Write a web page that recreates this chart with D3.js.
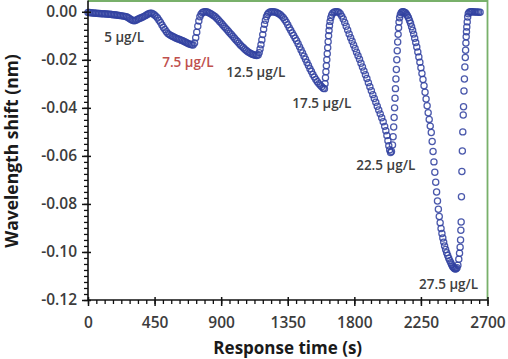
<!DOCTYPE html>
<html><head><meta charset="utf-8">
<script src="https://cdn.jsdelivr.net/npm/d3@7"></script>
<style>body{margin:0;background:#fff}svg{display:block}</style>
</head><body><svg id="c" width="508" height="359"></svg>
<script>
// ---- data (time in s, wavelength shift in nm) ----
const seg5 = [[0,-0.0003],[10,-0.0003],[20,-0.0004],[30,-0.0005],[40,-0.0005],[50,-0.0006],[60,-0.0006],[70,-0.0007],[80,-0.0007],[90,-0.0008],[100,-0.0008],[110,-0.0008],[120,-0.0009],[130,-0.0009],[140,-0.0010],[150,-0.0010],[160,-0.0011],[170,-0.0012],[180,-0.0012],[190,-0.0013],[200,-0.0014],[210,-0.0015],[220,-0.0016],[230,-0.0017],[240,-0.0018],[250,-0.0019],[260,-0.0021],[270,-0.0024],[280,-0.0028],[290,-0.0032],[300,-0.0035],[310,-0.0037],[320,-0.0036],[330,-0.0033],[340,-0.0030],[350,-0.0027],[360,-0.0025],[370,-0.0022],[380,-0.0019],[390,-0.0015],[400,-0.0011],[410,-0.0008],[420,-0.0006]];
const seg7_5 = [[430,-0.0006],[440,-0.0009],[450,-0.0013],[460,-0.0019],[470,-0.0026],[480,-0.0035],[490,-0.0044],[500,-0.0055],[510,-0.0065],[520,-0.0074],[530,-0.0083],[540,-0.0090],[550,-0.0095],[560,-0.0099],[570,-0.0102],[580,-0.0105],[590,-0.0108],[600,-0.0111],[610,-0.0113],[620,-0.0115],[630,-0.0118],[640,-0.0121],[650,-0.0124],[660,-0.0127],[670,-0.0130],[680,-0.0133],[690,-0.0135],[700,-0.0137],[710,-0.0138],[720,-0.0130],[728,-0.0108],[735,-0.0085],[742,-0.0060],[749,-0.0038],[756,-0.0021],[764,-0.0010],[772,-0.0004],[780,-0.0001],[790,0.0000],[800,0.0000],[810,-0.0002],[820,-0.0005]];
const seg12_5 = [[830,-0.0008],[840,-0.0012],[850,-0.0016],[860,-0.0021],[870,-0.0027],[880,-0.0033],[890,-0.0040],[900,-0.0047],[910,-0.0054],[920,-0.0061],[930,-0.0068],[940,-0.0075],[950,-0.0082],[960,-0.0089],[970,-0.0096],[980,-0.0103],[990,-0.0110],[1000,-0.0117],[1010,-0.0124],[1020,-0.0131],[1030,-0.0138],[1040,-0.0144],[1050,-0.0150],[1060,-0.0156],[1070,-0.0161],[1080,-0.0166],[1090,-0.0170],[1100,-0.0174],[1110,-0.0177],[1120,-0.0179],[1130,-0.0181],[1140,-0.0182],[1150,-0.0180],[1157,-0.0170],[1163,-0.0155],[1169,-0.0137],[1175,-0.0117],[1181,-0.0095],[1187,-0.0073],[1193,-0.0052],[1199,-0.0035],[1206,-0.0021],[1213,-0.0011],[1220,-0.0005],[1230,-0.0001],[1240,0.0000],[1250,0.0000],[1260,-0.0001],[1270,-0.0002]];
const seg17_5 = [[1280,-0.0005],[1290,-0.0008],[1300,-0.0012],[1310,-0.0018],[1320,-0.0025],[1330,-0.0033],[1340,-0.0043],[1350,-0.0054],[1360,-0.0066],[1370,-0.0077],[1380,-0.0088],[1390,-0.0099],[1400,-0.0110],[1410,-0.0121],[1420,-0.0133],[1430,-0.0146],[1440,-0.0159],[1450,-0.0172],[1460,-0.0185],[1470,-0.0198],[1480,-0.0211],[1490,-0.0224],[1500,-0.0237],[1510,-0.0249],[1520,-0.0261],[1530,-0.0272],[1540,-0.0282],[1550,-0.0291],[1560,-0.0299],[1570,-0.0306],[1580,-0.0312],[1590,-0.0318],[1598,-0.0320],[1602,-0.0300],[1605,-0.0275],[1608,-0.0250],[1611,-0.0225],[1614,-0.0200],[1617,-0.0175],[1620,-0.0150],[1623,-0.0125],[1626,-0.0100],[1629,-0.0078],[1632,-0.0058],[1636,-0.0040],[1641,-0.0025],[1647,-0.0013],[1655,-0.0005],[1665,-0.0001],[1675,0.0000],[1685,0.0000],[1695,-0.0002]];
const seg22_5 = [[1705,-0.0008],[1715,-0.0018],[1725,-0.0030],[1735,-0.0045],[1745,-0.0060],[1755,-0.0076],[1765,-0.0092],[1775,-0.0108],[1785,-0.0123],[1795,-0.0138],[1805,-0.0153],[1815,-0.0168],[1825,-0.0183],[1835,-0.0198],[1845,-0.0214],[1855,-0.0230],[1865,-0.0246],[1875,-0.0262],[1885,-0.0278],[1895,-0.0295],[1905,-0.0312],[1915,-0.0329],[1925,-0.0345],[1935,-0.0361],[1945,-0.0377],[1955,-0.0393],[1965,-0.0409],[1975,-0.0425],[1985,-0.0441],[1995,-0.0458],[2005,-0.0477],[2013,-0.0495],[2020,-0.0515],[2027,-0.0537],[2033,-0.0558],[2039,-0.0575],[2045,-0.0586],[2051,-0.0582],[2058,-0.0555],[2062,-0.0520],[2066,-0.0480],[2069,-0.0440],[2072,-0.0400],[2075,-0.0360],[2078,-0.0320],[2081,-0.0280],[2084,-0.0240],[2087,-0.0200],[2090,-0.0162],[2093,-0.0126],[2096,-0.0094],[2099,-0.0066],[2102,-0.0043],[2106,-0.0025],[2111,-0.0012],[2117,-0.0004],[2124,0.0000],[2131,0.0000],[2138,-0.0002]];
const seg27_5 = [[2145,-0.0004],[2152,-0.0009],[2159,-0.0016],[2166,-0.0025],[2173,-0.0036],[2180,-0.0048],[2187,-0.0062],[2194,-0.0077],[2201,-0.0093],[2208,-0.0110],[2215,-0.0128],[2222,-0.0147],[2229,-0.0167],[2236,-0.0188],[2243,-0.0210],[2250,-0.0233],[2257,-0.0257],[2264,-0.0282],[2271,-0.0308],[2278,-0.0335],[2285,-0.0363],[2292,-0.0391],[2299,-0.0420],[2306,-0.0448],[2313,-0.0476],[2320,-0.0503],[2326,-0.0540],[2332,-0.0582],[2338,-0.0625],[2344,-0.0668],[2350,-0.0710],[2356,-0.0750],[2362,-0.0788],[2368,-0.0822],[2374,-0.0852],[2380,-0.0878],[2386,-0.0902],[2392,-0.0923],[2398,-0.0942],[2404,-0.0959],[2410,-0.0975],[2417,-0.0990],[2424,-0.1003],[2431,-0.1015],[2438,-0.1026],[2445,-0.1036],[2452,-0.1045],[2458,-0.1053],[2464,-0.1060],[2470,-0.1065],[2476,-0.1069],[2482,-0.1071],[2488,-0.1070],[2494,-0.1066],[2500,-0.1055],[2506,-0.1030],[2511,-0.1005],[2515,-0.0980],[2518,-0.0950],[2520,-0.0910],[2522,-0.0875],[2524,-0.0770],[2527,-0.0665],[2530,-0.0580],[2533,-0.0500],[2536,-0.0430],[2538,-0.0395],[2541,-0.0330],[2544,-0.0280],[2547,-0.0230],[2550,-0.0190],[2552,-0.0160],[2554,-0.0130],[2556,-0.0104],[2558,-0.0083],[2560,-0.0063],[2563,-0.0042],[2566,-0.0022],[2570,-0.0008],[2576,-0.0002],[2584,0.0000],[2592,0.0000],[2600,0.0000],[2610,-0.0001],[2620,-0.0001],[2630,-0.0001],[2640,-0.0002],[2650,-0.0002]];

const concLabels = ["5 µg/L","7.5 µg/L","12.5 µg/L","17.5 µg/L","22.5 µg/L","27.5 µg/L"];
const labelTime  = [245, 675, 1134, 1580, 2012, 2437];
const labelShift = [-0.0124, -0.0228, -0.0270, -0.0399, -0.0657, -0.1153];

const xTicks = [0,450,900,1350,1800,2250,2700];
const xTickLabels = ["0","450","900","1350","1800","2250","2700"];
const yTicks = [0,-0.02,-0.04,-0.06,-0.08,-0.10,-0.12];
const yTickLabels = ["0.00","-0.02","-0.04","-0.06","-0.08","-0.10","-0.12"];
const xTitle = "Response time (s)";
const yTitle = "Wavelength shift (nm)";

// ---- chart ----
const svg = d3.select("#c");
const L = 88, R = 487.5, T = 0.5, B = 300;
const x = d3.scaleLinear().domain([0, 2700]).range([L, R]);
const y = d3.scaleLinear().domain([-0.12, 0.0047]).range([B, T]);
const font = "'Open Sans', sans-serif";

// green frame (top & right)
svg.append("path").attr("d", `M${L},${T+0.5}H${R}V${B}`)
  .attr("fill","none").attr("stroke","#78b06a").attr("stroke-width",1.8);

// points
const all = [].concat(seg5, seg7_5, seg12_5, seg17_5, seg22_5, seg27_5);
svg.append("g").selectAll("circle").data(all).join("circle")
  .attr("cx", d => x(d[0])).attr("cy", d => y(d[1])).attr("r", 3.1)
  .attr("fill","none").attr("stroke","#3242a0").attr("stroke-width",1.25).attr("stroke-opacity",0.88);

// minor ticks
svg.append("g").attr("transform",`translate(0,${B})`)
  .call(d3.axisBottom(x).tickValues(d3.range(0, 2700.01, 56.25)).tickSize(4).tickFormat(""))
  .call(g => g.select(".domain").remove())
  .call(g => g.selectAll("line").attr("stroke","#111").attr("stroke-width",1.3));
svg.append("g").attr("transform",`translate(${L},0)`)
  .call(d3.axisLeft(y).tickValues(d3.range(-0.12, 0.0001, 0.0025)).tickSize(4).tickFormat(""))
  .call(g => g.select(".domain").remove())
  .call(g => g.selectAll("line").attr("stroke","#111").attr("stroke-width",1.3));

// major axes
const xa = svg.append("g").attr("transform",`translate(0,${B})`)
  .call(d3.axisBottom(x).tickValues(xTicks).tickSize(6).tickSizeOuter(0).tickPadding(11)
    .tickFormat((d,i) => xTickLabels[i]));
xa.selectAll(".tick line").attr("y1",-3);
const ya = svg.append("g").attr("transform",`translate(${L},0)`)
  .call(d3.axisLeft(y).tickValues(yTicks).tickSize(6).tickSizeOuter(0).tickPadding(5)
    .tickFormat((d,i) => yTickLabels[i]));
ya.selectAll(".tick line").attr("x1",3);
[xa, ya].forEach(g => {
  g.select(".domain").attr("stroke","#111").attr("stroke-width",1.6);
  g.selectAll(".tick line").attr("stroke","#111").attr("stroke-width",1.5);
  g.selectAll("text").attr("font-family",font).attr("font-size",15.5)
    .attr("font-weight",600).attr("fill","#3c3c3c");
});
ya.select(".domain").attr("d", `M0,${B}V${T}`);
xa.select(".domain").attr("d", `M${L},0H${R}`);

// titles
svg.append("text").attr("x",(L+R)/2).attr("y",354).attr("text-anchor","middle")
  .attr("font-family",font).attr("font-size",17).attr("font-weight",700).attr("fill","#1a1a1a")
  .text(xTitle);
svg.append("text").attr("transform",`translate(17.5,151) rotate(-90)`).attr("text-anchor","middle")
  .attr("font-family",font).attr("font-size",17.5).attr("font-weight",700).attr("fill","#1a1a1a")
  .text(yTitle);

// concentration labels
svg.append("g").selectAll("text").data(concLabels).join("text")
  .attr("x",(d,i) => x(labelTime[i])).attr("y",(d,i) => y(labelShift[i]))
  .attr("text-anchor","middle").attr("font-family",font).attr("font-size",13.5).attr("font-weight",600)
  .attr("fill",(d,i) => i === 1 ? "#c0504d" : "#404040")
  .text(d => d);
</script></body></html>
